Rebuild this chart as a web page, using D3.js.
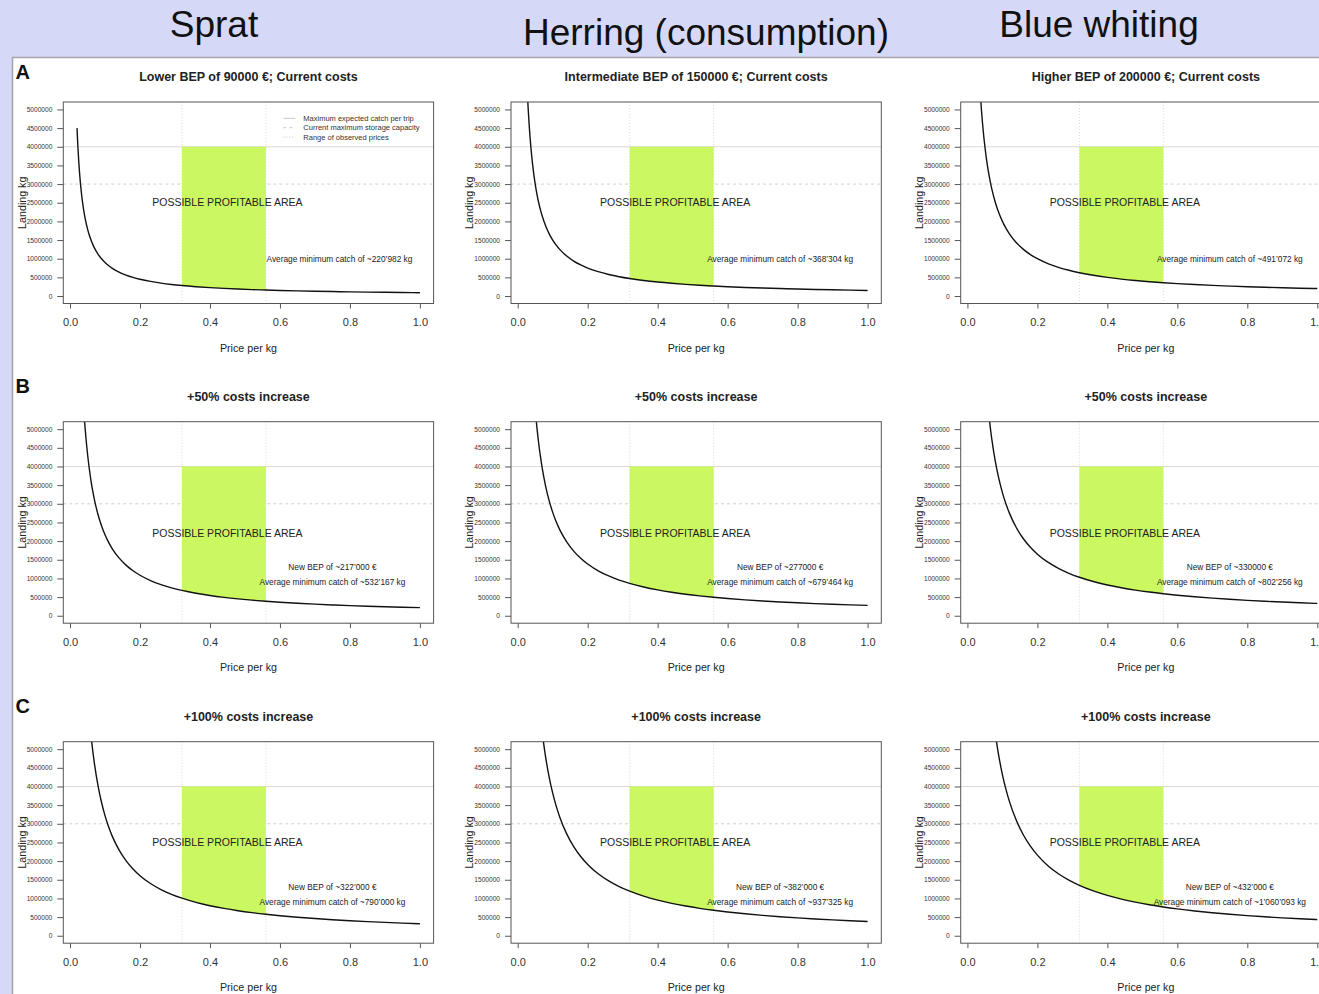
<!DOCTYPE html>
<html>
<head>
<meta charset="utf-8">
<script src="https://cdn.jsdelivr.net/npm/d3@7/dist/d3.min.js"></script>
<style>
  html, body { margin: 0; padding: 0; background: #d6d8f7; }
  svg { display: block; font-family: "Liberation Sans", Arial, Helvetica, sans-serif; }
</style>
</head>
<body>
<svg id="chart" width="1319" height="994"></svg>
<script>
// Species (columns) and cost scenarios (rows)
const species = ["Sprat", "Herring (consumption)", "Blue whiting"];
const rowLetters = ["A", "B", "C"];
const panelTitles = [
  ["Lower BEP of 90000 €; Current costs", "Intermediate BEP of 150000 €; Current costs", "Higher BEP of 200000 €; Current costs"],
  ["+50% costs increase", "+50% costs increase", "+50% costs increase"],
  ["+100% costs increase", "+100% costs increase", "+100% costs increase"]
];

// Break-even point (€) per scenario row and species column
const bepValues = [
  [90000, 150000, 200000],
  [217000, 277000, 330000],
  [322000, 382000, 432000]
];

// Annotation strings
const newBepLabels = [
  [null, null, null],
  ["~217’000", "~277000", "~330000"],
  ["~322’000", "~382’000", "~432’000"]
];
const avgCatchLabels = [
  ["~220’982", "~368’304", "~491’072"],
  ["~532’167", "~679’464", "~802’256"],
  ["~790’000", "~937’325", "~1’060’093"]
];

// Reference levels
const maxCatchPerTrip = 4000000;
const storageCapacity = 3000000;
const observedPriceRange = [0.32, 0.56];

// Price grid (€/kg) along which the break-even landing curve is traced
const prices = [0.02, 0.0225, 0.025, 0.0275, 0.03, 0.0325, 0.035, 0.0375, 0.04, 0.045, 0.05, 0.055,
  0.06, 0.065, 0.07, 0.08, 0.09, 0.1, 0.11, 0.12, 0.14, 0.16, 0.18, 0.2, 0.23, 0.26, 0.29, 0.32,
  0.36, 0.4, 0.44, 0.48, 0.52, 0.56, 0.6, 0.65, 0.7, 0.75, 0.8, 0.85, 0.9, 0.95, 1.0];

// Axis ticks
const xTicks = [0.0, 0.2, 0.4, 0.6, 0.8, 1.0];
const yTicks = [0, 500000, 1000000, 1500000, 2000000, 2500000, 3000000, 3500000, 4000000, 4500000, 5000000];

const legendItems = ["Maximum expected catch per trip", "Current maximum storage capacity", "Range of observed prices"];

// ---- layout ----
const W = 1319, H = 994;
const colLeft = [63.3, 511, 960.7];
const rowTop = [102, 421.7, 741.7];
const boxW = 370.3, boxH = 201.5;
const headerX = [214, 706, 1099];
const headerY = [37, 45, 37];
const letterY = [79, 392.5, 712.5];
const profitLabelY = [2500000, 2200000, 2500000];
const green = "#cbf760";

const svg = d3.select("#chart");

// header band and white plotting sheet
svg.append("rect").attr("x", 0).attr("y", 0).attr("width", W).attr("height", H).attr("fill", "#d6d8f7");
svg.append("rect").attr("x", 12.5).attr("y", 57.5).attr("width", W).attr("height", H)
  .attr("fill", "#ffffff").attr("stroke", "#a3a3a8").attr("stroke-width", 1.5);

species.forEach((s, i) => {
  svg.append("text").attr("x", headerX[i]).attr("y", headerY[i])
    .attr("text-anchor", "middle").attr("font-size", 37).attr("fill", "#111").text(s);
});

rowLetters.forEach((l, r) => {
  svg.append("text").attr("x", 15.5).attr("y", letterY[r])
    .attr("font-size", 20).attr("font-weight", "bold").attr("fill", "#111").text(l);
});

const defs = svg.append("defs");

for (let r = 0; r < 3; r++) {
  for (let c = 0; c < 3; c++) {
    const left = colLeft[c], top = rowTop[r];
    const bep = bepValues[r][c];
    const x = d3.scaleLinear().domain([-0.0192, 1.0392]).range([left, left + boxW]);
    const y = d3.scaleLinear().domain([-200000, 5200000]).range([top + boxH, top]);
    const g = svg.append("g");
    const clipId = `clip-${r}-${c}`;
    defs.append("clipPath").attr("id", clipId).append("rect")
      .attr("x", left).attr("y", top).attr("width", boxW).attr("height", boxH);
    const plot = g.append("g").attr("clip-path", `url(#${clipId})`);

    // panel title
    g.append("text").attr("x", left + boxW / 2).attr("y", top - 21)
      .attr("text-anchor", "middle").attr("font-size", 12.5).attr("font-weight", "bold")
      .attr("fill", "#222").text(panelTitles[r][c]);

    // reference lines
    plot.append("line").attr("x1", left).attr("x2", left + boxW)
      .attr("y1", y(maxCatchPerTrip)).attr("y2", y(maxCatchPerTrip))
      .attr("stroke", "#d9d9d9").attr("stroke-width", 1);
    plot.append("line").attr("x1", left).attr("x2", left + boxW)
      .attr("y1", y(storageCapacity)).attr("y2", y(storageCapacity))
      .attr("stroke", "#cfcfcf").attr("stroke-width", 1).attr("stroke-dasharray", "3,3");
    observedPriceRange.forEach(p => {
      plot.append("line").attr("x1", x(p)).attr("x2", x(p)).attr("y1", top).attr("y2", top + boxH)
        .attr("stroke", "#d9d9d9").attr("stroke-width", 1).attr("stroke-dasharray", "1,2");
    });

    // profitable area between the break-even curve and the max catch
    const inRange = prices.filter(p => p >= observedPriceRange[0] && p <= observedPriceRange[1]);
    plot.append("path").datum(inRange)
      .attr("d", d3.area().x(p => x(p)).y0(p => y(bep / p)).y1(() => y(maxCatchPerTrip)).curve(d3.curveMonotoneX))
      .attr("fill", green);

    // break-even landing curve
    plot.append("path").datum(prices)
      .attr("d", d3.line().x(p => x(p)).y(p => y(bep / p)).curve(d3.curveMonotoneX))
      .attr("fill", "none").attr("stroke", "#111").attr("stroke-width", 1.4);

    // annotations
    g.append("text").attr("x", x(0.45)).attr("y", y(profitLabelY[r])).attr("dy", "0.35em")
      .attr("text-anchor", "middle").attr("font-size", 10.5).attr("fill", "#222")
      .text("POSSIBLE PROFITABLE AREA");
    if (r === 0) {
      g.append("text").attr("x", x(c === 0 ? 0.77 : 0.75)).attr("y", y(1000000)).attr("dy", "0.35em")
        .attr("text-anchor", "middle").attr("font-size", 8.3).attr("fill", "#222")
        .text(`Average minimum catch of ${avgCatchLabels[r][c]} kg`);
    } else {
      g.append("text").attr("x", x(0.75)).attr("y", y(1300000)).attr("dy", "0.35em")
        .attr("text-anchor", "middle").attr("font-size", 8.3).attr("fill", "#222")
        .text(`New BEP of ${newBepLabels[r][c]} €`);
      g.append("text").attr("x", x(0.75)).attr("y", y(900000)).attr("dy", "0.35em")
        .attr("text-anchor", "middle").attr("font-size", 8.3).attr("fill", "#222")
        .text(`Average minimum catch of ${avgCatchLabels[r][c]} kg`);
    }

    // legend (first panel only)
    if (r === 0 && c === 0) {
      const styles = [null, "3,3", "1,2"];
      legendItems.forEach((t, i) => {
        const ly = top + 16.3 + i * 9.4;
        g.append("line").attr("x1", left + 220).attr("x2", left + 232).attr("y1", ly).attr("y2", ly)
          .attr("stroke", "#c8c8c8").attr("stroke-width", 1).attr("stroke-dasharray", styles[i]);
        g.append("text").attr("x", left + 240).attr("y", ly).attr("dy", "0.35em")
          .attr("font-size", 7.5).attr("fill", "#333").text(t);
      });
    }

    // axes
    const xAxis = g.append("g").attr("transform", `translate(0,${top + boxH})`)
      .call(d3.axisBottom(x).tickValues(xTicks).tickFormat(d3.format(".1f")).tickSize(5).tickPadding(10));
    xAxis.select(".domain").remove();
    xAxis.selectAll("text").attr("font-size", 11).attr("fill", "#333").attr("font-family", null);
    xAxis.selectAll("line").attr("stroke", "#555");

    const yAxis = g.append("g").attr("transform", `translate(${left},0)`)
      .call(d3.axisLeft(y).tickValues(yTicks).tickFormat(d3.format("d")).tickSize(6).tickPadding(5));
    yAxis.select(".domain").remove();
    yAxis.selectAll("text").attr("font-size", 6.6).attr("fill", "#333").attr("font-family", null);
    yAxis.selectAll("line").attr("stroke", "#555");

    // axis titles
    g.append("text").attr("x", left + boxW / 2).attr("y", top + boxH + 48)
      .attr("text-anchor", "middle").attr("font-size", 10.7).attr("fill", "#222").text("Price per kg");
    g.append("text").attr("transform", `translate(${left - 41.5},${top + boxH / 2}) rotate(-90)`)
      .attr("dy", "0.35em").attr("text-anchor", "middle").attr("font-size", 10.7).attr("fill", "#222")
      .text("Landing kg");

    // plot box
    g.append("rect").attr("x", left).attr("y", top).attr("width", boxW).attr("height", boxH)
      .attr("fill", "none").attr("stroke", "#555").attr("stroke-width", 1);
  }
}
</script>
</body>
</html>
